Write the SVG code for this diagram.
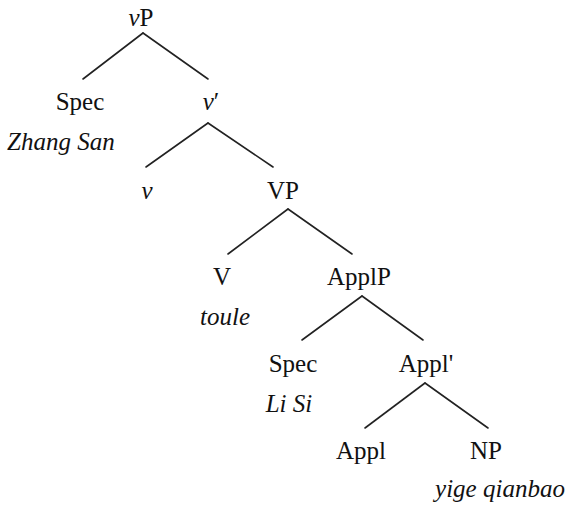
<svg xmlns="http://www.w3.org/2000/svg" width="568" height="509" viewBox="0 0 568 509" font-family="Liberation Serif, DejaVu Serif, serif">
<style>
text{font-size:25px;fill:#111;text-anchor:middle}
.i{font-style:italic}
.l{text-anchor:start}
#edges line{stroke:#222;stroke-width:1.6;stroke-linecap:round}
</style>
<rect width="568" height="509" fill="#fff"/>
<g id="edges">
<line x1="143" y1="33" x2="83" y2="79"/>
<line x1="143" y1="33" x2="208" y2="79"/>
<line x1="208" y1="123" x2="146" y2="167"/>
<line x1="208" y1="123" x2="273" y2="167"/>
<line x1="288" y1="209" x2="228" y2="254"/>
<line x1="288" y1="209" x2="352" y2="254"/>
<line x1="362" y1="296" x2="302" y2="340"/>
<line x1="362" y1="296" x2="423" y2="340"/>
<line x1="425" y1="383" x2="365" y2="428"/>
<line x1="425" y1="383" x2="488" y2="428"/>
</g>
<g id="vP"><text x="141" y="26"><tspan class="i">v</tspan>P</text></g>
<g id="Spec1"><text x="80" y="110">Spec</text><text class="i l" x="7" y="150">Zhang San</text></g>
<g id="vbar"><text x="211" y="110"><tspan class="i">v</tspan>′</text></g>
<g id="v"><text class="i" x="147" y="199">v</text></g>
<g id="VP"><text x="283" y="199">VP</text></g>
<g id="V"><text x="222" y="285">V</text><text class="i" x="225" y="325">toule</text></g>
<g id="ApplP"><text x="359" y="285">ApplP</text></g>
<g id="Spec2"><text x="293" y="372">Spec</text><text class="i" x="289" y="412">Li Si</text></g>
<g id="Applbar"><text x="426" y="372">Appl'</text></g>
<g id="Appl"><text x="361" y="459">Appl</text></g>
<g id="NP"><text x="486" y="459">NP</text><text class="i" x="500" y="497">yige qianbao</text></g>
</svg>
